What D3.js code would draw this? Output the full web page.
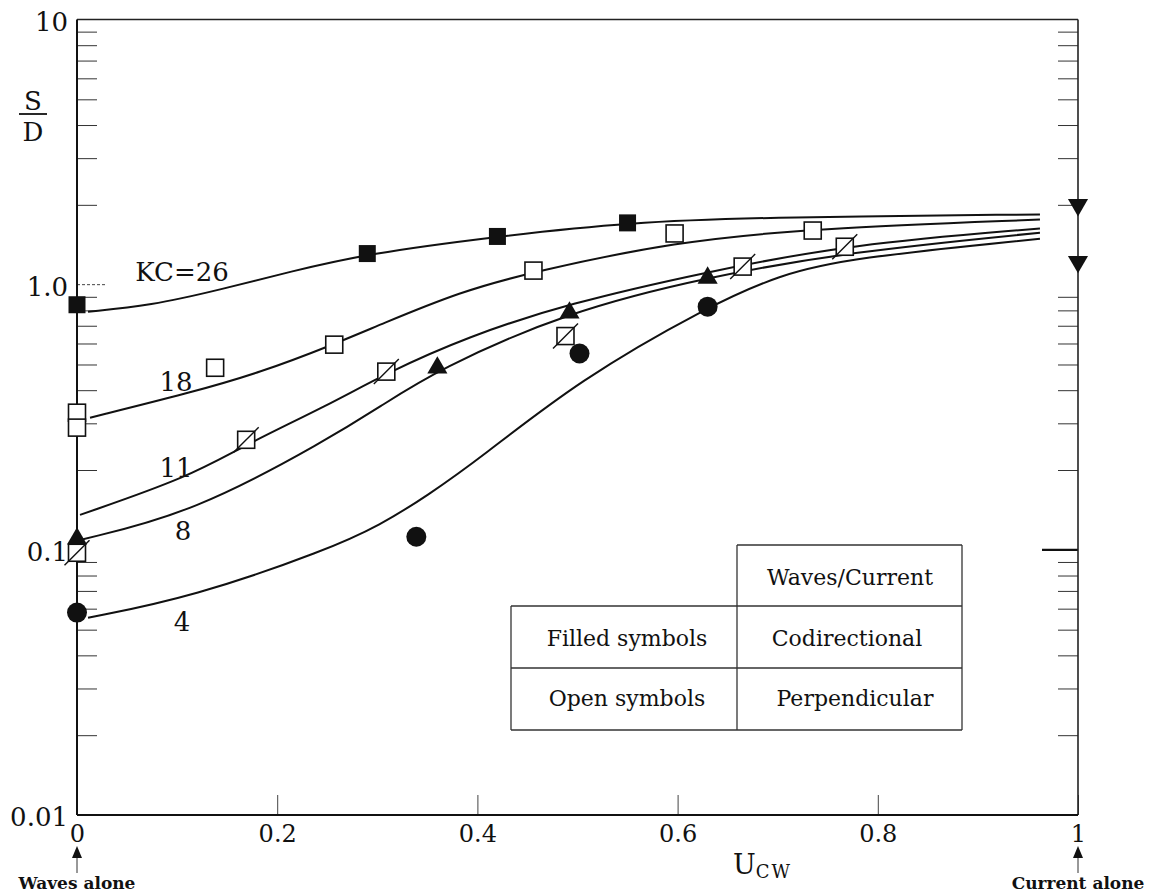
<!DOCTYPE html>
<meta charset="utf-8">
<style>
  body { margin: 0; background: #fff; }
  svg text { font-family: "DejaVu Serif", serif; fill: #111; }
</style>
<svg width="1150" height="896"></svg>
<script src="https://cdn.jsdelivr.net/npm/d3@7/dist/d3.min.js"></script>
<script>

// tick labels
var uTicks = [0, 0.2, 0.4, 0.6, 0.8, 1];
var uTickLabels = ["0", "0.2", "0.4", "0.6", "0.8", "1"];
var sdTicks = [0.01, 0.1, 1, 10];
var sdTickLabels = ["0.01", "0.1", "1.0", "10"];

// measured points
var kc26U = [0, 0.29, 0.42, 0.55];
var kc26SD = [0.84, 1.31, 1.52, 1.71];
var openU = [0, 0, 0.138, 0.257, 0.456, 0.597, 0.735];
var openSD = [0.329, 0.289, 0.486, 0.594, 1.13, 1.56, 1.60];
var crossU = [0, 0.169, 0.309, 0.488, 0.665, 0.767];
var crossSD = [0.0975, 0.26, 0.47, 0.64, 1.17, 1.39];
var triU = [0, 0.36, 0.492, 0.63];
var triSD = [0.111, 0.49, 0.79, 1.07];
var circU = [0, 0.339, 0.502, 0.63];
var circSD = [0.058, 0.112, 0.55, 0.826];
var currentAloneSD = [2.0, 1.22];

// fitted curves
var c26U = [0.011, 0.073, 0.143, 0.213, 0.29, 0.42, 0.55, 0.7, 0.962];
var c26SD = [0.791, 0.833, 0.957, 1.12, 1.31, 1.52, 1.72, 1.80, 1.84];
var c18U = [0.013, 0.113, 0.183, 0.256, 0.303, 0.383, 0.456, 0.597, 0.735, 0.962];
var c18SD = [0.315, 0.391, 0.466, 0.594, 0.707, 0.941, 1.12, 1.45, 1.63, 1.76];
var c11U = [0.003, 0.113, 0.168, 0.25, 0.31, 0.39, 0.49, 0.63, 0.772, 0.962];
var c11SD = [0.1355, 0.189, 0.249, 0.35, 0.466, 0.636, 0.848, 1.12, 1.42, 1.63];
var c8U = [0.003, 0.116, 0.25, 0.303, 0.36, 0.49, 0.63, 0.772, 0.962];
var c8SD = [0.109, 0.138, 0.26, 0.347, 0.478, 0.791, 1.07, 1.33, 1.57];
var c4U = [0.011, 0.116, 0.25, 0.303, 0.35, 0.403, 0.502, 0.63, 0.702, 0.772, 0.962];
var c4SD = [0.0554, 0.0665, 0.100, 0.124, 0.160, 0.222, 0.438, 0.826, 1.09, 1.26, 1.49];

var curveNames = ["KC=26", "18", "11", "8", "4"];
var labelU = [0.105, 0.099, 0.099, 0.106, 0.105];
var labelSD = [1.12, 0.43, 0.204, 0.118, 0.0535];

var svg = d3.select("svg"),
    margin = {top: 19.5, right: 72, bottom: 81, left: 77},
    width = +svg.attr("width") - margin.left - margin.right,
    height = +svg.attr("height") - margin.top - margin.bottom;

var x = d3.scaleLinear().domain([0, 1]).range([margin.left, margin.left + width]);
var y = d3.scaleLog().domain([0.01, 10]).range([margin.top + height, margin.top]);

var zip = function(us, vs) { return us.map(function(u, i) { return {u: u, v: vs[i]}; }); };

// minor ticks, left and right, pointing inward
var minor = y.ticks().filter(function(d) { return sdTicks.indexOf(d) < 0; });

svg.append("g")
    .attr("transform", "translate(" + x(0) + ",0)")
    .call(d3.axisLeft(y).tickValues(minor).tickSize(-20).tickFormat(""))
    .call(function(g) { g.select(".domain").remove(); g.selectAll("line").attr("stroke", "#333"); });

svg.append("g")
    .attr("transform", "translate(" + x(1) + ",0)")
    .call(d3.axisRight(y).tickValues(minor).tickSize(-20).tickFormat(""))
    .call(function(g) { g.select(".domain").remove(); g.selectAll("line").attr("stroke", "#333"); });

// major labels on the left
svg.append("g")
    .attr("transform", "translate(" + x(0) + ",0)")
    .call(d3.axisLeft(y).tickValues(sdTicks).tickSize(0).tickPadding(9)
        .tickFormat(function(d, i) { return sdTickLabels[i]; }))
    .call(function(g) {
        g.select(".domain").remove();
        g.selectAll("text").attr("font-size", 26).attr("dy", "0.42em").attr("fill", "#111");
    });

// a few heavier ticks
svg.append("line").attr("x1", x(0)).attr("x2", x(0) + 28).attr("y1", y(1)).attr("y2", y(1))
    .attr("stroke", "#444").attr("stroke-dasharray", "3,2");
svg.append("line").attr("x1", x(1)).attr("x2", x(1) - 36).attr("y1", y(0.1)).attr("y2", y(0.1))
    .attr("stroke", "#111").attr("stroke-width", 2.2);

// bottom axis
svg.append("g")
    .attr("transform", "translate(0," + y(0.01) + ")")
    .call(d3.axisBottom(x).tickValues(uTicks).tickSize(-20).tickPadding(10)
        .tickFormat(function(d, i) { return uTickLabels[i]; }))
    .call(function(g) {
        g.select(".domain").remove();
        g.selectAll("line").attr("stroke", "#444");
        g.selectAll("text").attr("font-size", 24).attr("fill", "#111");
    });

// frame
svg.append("line").attr("x1", x(0)).attr("x2", x(1)).attr("y1", y(10)).attr("y2", y(10)).attr("stroke", "#222").attr("stroke-width", 1.4);
svg.append("line").attr("x1", x(1)).attr("x2", x(1)).attr("y1", y(10)).attr("y2", y(0.01)).attr("stroke", "#222").attr("stroke-width", 1.6);
svg.append("line").attr("x1", x(0)).attr("x2", x(0)).attr("y1", y(10)).attr("y2", y(0.01)).attr("stroke", "#111").attr("stroke-width", 2);
svg.append("line").attr("x1", x(0)).attr("x2", x(1)).attr("y1", y(0.01)).attr("y2", y(0.01)).attr("stroke", "#111").attr("stroke-width", 2);

// curves
var line = d3.line()
    .x(function(d) { return x(d.u); })
    .y(function(d) { return y(d.v); })
    .curve(d3.curveBasis);

var curves = [zip(c26U, c26SD), zip(c18U, c18SD), zip(c11U, c11SD), zip(c8U, c8SD), zip(c4U, c4SD)];

svg.append("g").selectAll("path")
    .data(curves)
    .enter().append("path")
    .attr("fill", "none")
    .attr("stroke", "#111")
    .attr("stroke-width", 2)
    .attr("d", line);

svg.append("g").selectAll("text")
    .data(curveNames)
    .enter().append("text")
    .attr("x", function(d, i) { return x(labelU[i]); })
    .attr("y", function(d, i) { return y(labelSD[i]); })
    .attr("dy", "0.36em")
    .attr("text-anchor", "middle")
    .attr("font-size", 26)
    .text(function(d) { return d; });

// markers
var pts = svg.append("g");

pts.selectAll("rect.fsq")
    .data(zip(kc26U, kc26SD))
    .enter().append("rect")
    .attr("class", "fsq")
    .attr("x", function(d) { return x(d.u) - 8.5; })
    .attr("y", function(d) { return y(d.v) - 8.5; })
    .attr("width", 17).attr("height", 17)
    .attr("fill", "#111");

pts.selectAll("rect.osq")
    .data(zip(openU, openSD))
    .enter().append("rect")
    .attr("class", "osq")
    .attr("x", function(d) { return x(d.u) - 8.5; })
    .attr("y", function(d) { return y(d.v) - 8.5; })
    .attr("width", 17).attr("height", 17)
    .attr("fill", "#fff").attr("stroke", "#111").attr("stroke-width", 1.6);

var cross = pts.selectAll("g.xsq")
    .data(zip(crossU, crossSD))
    .enter().append("g")
    .attr("class", "xsq")
    .attr("transform", function(d) { return "translate(" + x(d.u) + "," + y(d.v) + ")"; });
cross.append("rect")
    .attr("x", -8.5).attr("y", -8.5).attr("width", 17).attr("height", 17)
    .attr("fill", "#fff").attr("stroke", "#111").attr("stroke-width", 1.6);
cross.append("line")
    .attr("x1", -12.5).attr("y1", 12.5).attr("x2", 12.5).attr("y2", -12.5)
    .attr("stroke", "#111").attr("stroke-width", 1.4);

var tri = d3.symbol().type(d3.symbolTriangle).size(175);

pts.selectAll("path.tri")
    .data(zip(triU, triSD))
    .enter().append("path")
    .attr("class", "tri")
    .attr("transform", function(d) { return "translate(" + x(d.u) + "," + (y(d.v) + 1) + ")"; })
    .attr("d", tri)
    .attr("fill", "#111");

pts.selectAll("circle")
    .data(zip(circU, circSD))
    .enter().append("circle")
    .attr("cx", function(d) { return x(d.u); })
    .attr("cy", function(d) { return y(d.v); })
    .attr("r", 10)
    .attr("fill", "#111");

pts.selectAll("path.down")
    .data(currentAloneSD)
    .enter().append("path")
    .attr("class", "down")
    .attr("transform", function(d) { return "translate(" + x(1) + "," + y(d) + ") rotate(180)"; })
    .attr("d", tri)
    .attr("fill", "#111");

// y title as a fraction
var yt = svg.append("g").attr("transform", "translate(33,0)");
yt.append("text").attr("x", 0).attr("y", 110).attr("text-anchor", "middle").attr("font-size", 26).text("S");
yt.append("line").attr("x1", -14).attr("x2", 14).attr("y1", 114).attr("y2", 114).attr("stroke", "#111").attr("stroke-width", 1.8);
yt.append("text").attr("x", 0).attr("y", 141).attr("text-anchor", "middle").attr("font-size", 26).text("D");

// x title
var xt = svg.append("text").attr("x", 733).attr("y", 874).attr("font-size", 27);
xt.append("tspan").text("U");
xt.append("tspan").attr("font-size", 18).attr("dy", 4).attr("letter-spacing", 2).text("CW");

// end arrows
function arrow(cx, label) {
    var g = svg.append("g").attr("transform", "translate(" + cx + ",0)");
    g.append("path").attr("d", "M0,846L5,858L-5,858Z").attr("fill", "#111");
    g.append("line").attr("x1", 0).attr("x2", 0).attr("y1", 858).attr("y2", 873).attr("stroke", "#333").attr("stroke-width", 1);
    g.append("text").attr("x", 0).attr("y", 889).attr("text-anchor", "middle")
        .attr("font-size", 17).attr("font-weight", "bold").attr("fill", "#222").text(label);
}
arrow(x(0), "Waves alone");
arrow(x(1), "Current alone");

// legend table
var tb = svg.append("g").attr("stroke", "#333").attr("stroke-width", 1.3);
tb.append("line").attr("x1", 737).attr("x2", 962).attr("y1", 545).attr("y2", 545);
tb.append("line").attr("x1", 511).attr("x2", 962).attr("y1", 606).attr("y2", 606);
tb.append("line").attr("x1", 511).attr("x2", 962).attr("y1", 668).attr("y2", 668);
tb.append("line").attr("x1", 511).attr("x2", 962).attr("y1", 730).attr("y2", 730);
tb.append("line").attr("x1", 511).attr("x2", 511).attr("y1", 606).attr("y2", 730);
tb.append("line").attr("x1", 737).attr("x2", 737).attr("y1", 545).attr("y2", 730);
tb.append("line").attr("x1", 962).attr("x2", 962).attr("y1", 545).attr("y2", 730);

var cells = [["Waves/Current", 850, 577], ["Filled symbols", 627, 638], ["Codirectional", 847, 638],
             ["Open symbols", 627, 698], ["Perpendicular", 855, 698]];
svg.append("g").selectAll("text")
    .data(cells)
    .enter().append("text")
    .attr("x", function(d) { return d[1]; })
    .attr("y", function(d) { return d[2]; })
    .attr("dy", "0.36em")
    .attr("text-anchor", "middle")
    .attr("font-size", 22)
    .text(function(d) { return d[0]; });

</script>
